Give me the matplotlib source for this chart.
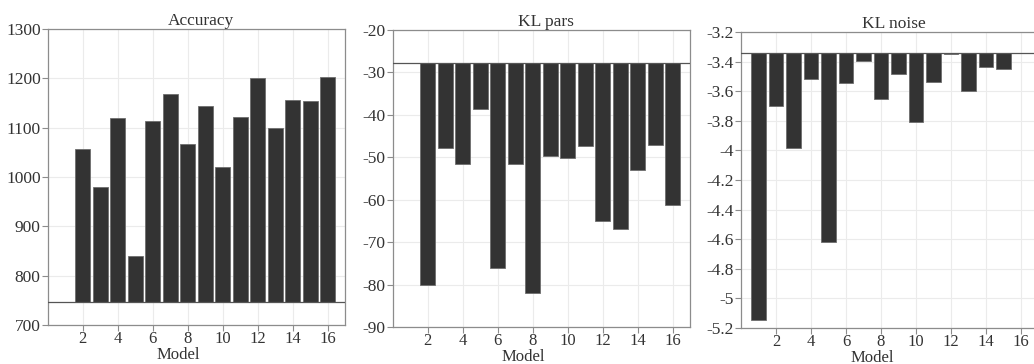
import matplotlib
matplotlib.use("Agg")
import matplotlib.pyplot as plt
from matplotlib.ticker import FuncFormatter, MultipleLocator

plt.rcParams["font.family"] = ["Liberation Serif", "DejaVu Serif"]
plt.rcParams["axes.unicode_minus"] = False

# one value per model (1..16); bars hang from each panel's reference level
models = list(range(1, 17))
accuracy = [746, 1056, 979, 1120, 840, 1114, 1168, 1066, 1144, 1020,
            1121, 1200, 1099, 1157, 1155, 1202]
kl_pars = [-27.7, -80.2, -47.7, -51.6, -38.7, -76.0, -51.6, -82.1, -49.6,
           -50.2, -47.4, -65.0, -67.0, -53.1, -47.1, -61.2]
kl_noise = [-5.144, -3.699, -3.982, -3.515, -4.616, -3.544, -3.393, -3.652,
            -3.483, -3.805, -3.535, -3.351, -3.598, -3.434, -3.452, -3.342]

panels = [
    ("Accuracy", accuracy, min(accuracy), (700, 1300), 100),
    ("KL pars", kl_pars, max(kl_pars), (-90, -20), 10),
    ("KL noise", kl_noise, max(kl_noise), (-5.2, -3.2), 0.2),
]
# [left, bottom, width, height] in figure fraction
boxes = [
    [0.0461, 0.1071, 0.2877, 0.8132],
    [0.3798, 0.1016, 0.2877, 0.8160],
    [0.7166, 0.0990, 0.2877, 0.8132],
]

fig = plt.figure(figsize=(10.34, 3.64), dpi=100)
text_col = "#333333"
spine_col = "#8c8c8c"

for (title, vals, base, ylim, step), box in zip(panels, boxes):
    ax = fig.add_axes(box)
    heights = [v - base for v in vals]
    ax.bar(models, heights, bottom=base, width=0.84, color="#333333",
           edgecolor="#6e6e6e", linewidth=0.6, zorder=2)
    ax.axhline(base, color="#555555", linewidth=0.9, zorder=3)

    ax.set_xlim(0, 17)
    ax.set_ylim(*ylim)
    ax.set_xticks(range(2, 17, 2))
    ax.yaxis.set_major_locator(MultipleLocator(step))
    ax.yaxis.set_major_formatter(FuncFormatter(lambda v, p: f"{round(v, 4):g}"))

    ax.grid(True, color="#ebebeb", linewidth=0.8, zorder=0)
    ax.set_axisbelow(True)
    for s in ax.spines.values():
        s.set_color(spine_col)
        s.set_linewidth(0.9)
    ax.tick_params(direction="out", length=4, width=0.8, color=spine_col,
                   labelsize=12.5, labelcolor=text_col, pad=1)
    ax.tick_params(axis="x", pad=0, labelsize=12)

    ax.set_title(title, fontsize=12.5, color=text_col, pad=1, x=0.515)
    ax.set_xlabel("Model", fontsize=12, color=text_col, labelpad=0)
    ax.xaxis.label.set_x(0.44)

fig.savefig("out.png", dpi=100)
